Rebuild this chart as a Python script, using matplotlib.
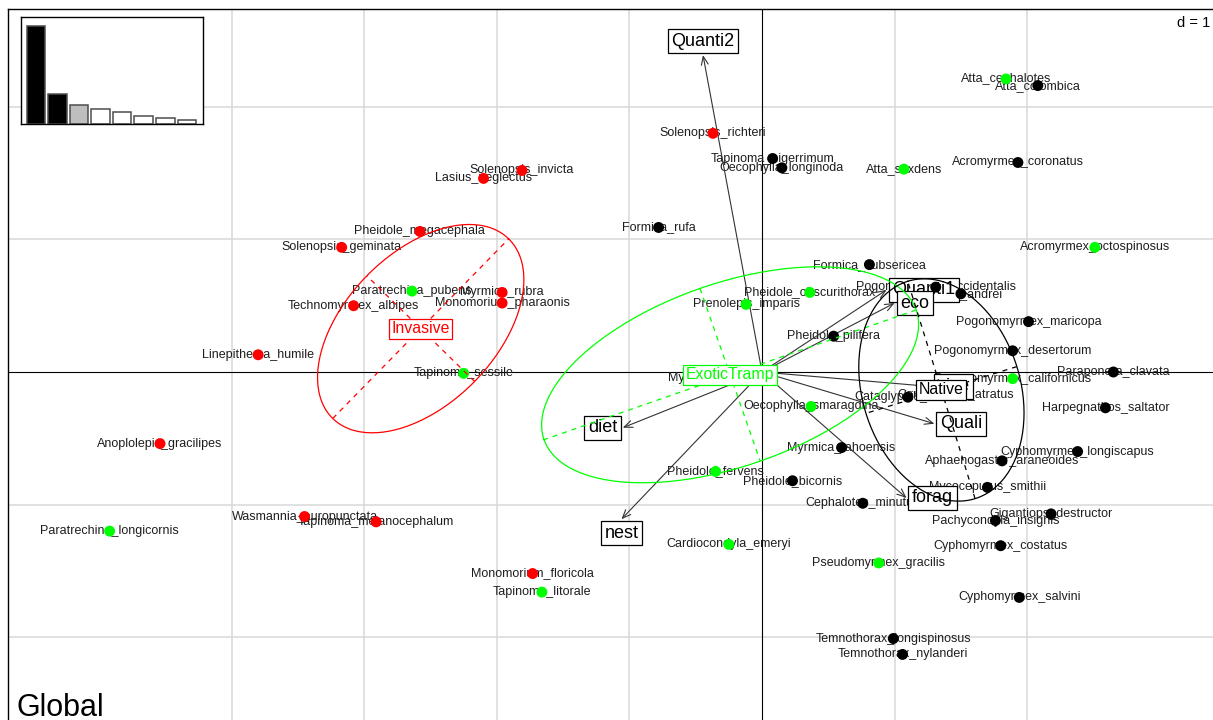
import numpy as np
import matplotlib.pyplot as plt
from matplotlib.patches import FancyArrowPatch

plt.rcParams['font.family'] = ['Liberation Sans', 'DejaVu Sans']

# ------------------------------------------------------------------
# Data: species scores on axes 1-2 and their status
# ------------------------------------------------------------------
invasive = ["Solenopsis_richteri", "Solenopsis_invicta", "Lasius_neglectus",
            "Pheidole_megacephala", "Solenopsis_geminata", "Technomyrmex_albipes",
            "Myrmica_rubra", "Monomorium_pharaonis", "Linepithema_humile",
            "Anoplolepis_gracilipes", "Wasmannia_auropunctata",
            "Tapinoma_melanocephalum", "Monomorium_floricola"]
invasive_x = [-0.37, -1.81, -2.10, -2.58, -3.17, -3.08, -1.96, -1.96, -3.80,
              -4.54, -3.45, -2.91, -1.73]
invasive_y = [1.80, 1.52, 1.46, 1.06, 0.94, 0.50, 0.60, 0.52, 0.13,
              -0.54, -1.09, -1.13, -1.52]

tramp = ["Paratrechina_pubens", "Tapinoma_sessile", "Paratrechina_longicornis",
         "Tapinoma_litorale", "Prenolepis_imparis", "Pheidole_obscurithorax",
         "Oecophylla_smaragdina", "Pheidole_fervens", "Cardiocondyla_emeryi",
         "Pseudomyrmex_gracilis", "Atta_cephalotes", "Atta_sexdens",
         "Acromyrmex_octospinosus", "Pogonomyrmex_californicus", "Myrmica_sabuleti"]
tramp_x = [-2.64, -2.25, -4.92, -1.66, -0.12, 0.36, 0.37, -0.35, -0.25,
           0.88, 1.84, 1.07, 2.51, 1.89, -0.34]
tramp_y = [0.61, -0.01, -1.20, -1.66, 0.51, 0.60, -0.26, -0.75, -1.30,
           -1.44, 2.21, 1.53, 0.94, -0.05, -0.045]

native = ["Tapinoma_nigerrimum", "Oecophylla_longinoda", "Formica_rufa",
          "Atta_colombica", "Acromyrmex_coronatus", "Formica_subsericea",
          "Pogonomyrmex_occidentalis", "Messor_andrei", "Pheidole_pilifera",
          "Pogonomyrmex_maricopa", "Pogonomyrmex_desertorum", "Paraponera_clavata",
          "Cataglyphis_cursor", "Camponotus_atratus", "Harpegnathos_saltator",
          "Cyphomyrmex_longiscapus", "Aphaenogaster_araneoides", "Myrmica_tahoensis",
          "Mycocepurus_smithii", "Pheidole_bicornis", "Cephalotes_minutus",
          "Gigantiops_destructor", "Pachycondyla_insignis", "Cyphomyrmex_costatus",
          "Cyphomyrmex_salvini", "Temnothorax_longispinosus", "Temnothorax_nylanderi"]
native_x = [0.08, 0.15, -0.78, 2.08, 1.93, 0.81, 1.31, 1.50, 0.54, 2.01, 1.89,
            2.65, 1.10, 1.46, 2.59, 2.38, 1.81, 0.60, 1.70, 0.23, 0.76, 2.18,
            1.76, 1.80, 1.94, 0.99, 1.06]
native_y = [1.61, 1.54, 1.09, 2.16, 1.58, 0.81, 0.64, 0.59, 0.27, 0.38, 0.16,
            0.00, -0.19, -0.17, -0.27, -0.60, -0.67, -0.57, -0.87, -0.82, -0.99,
            -1.07, -1.12, -1.31, -1.70, -2.01, -2.13]

# variables (arrows)
var_names = ["Quanti2", "Quanti1", "eco", "size", "Quali", "forag", "nest", "diet"]
var_x = [-0.445, 0.94, 1.00, 1.28, 1.30, 1.09, -1.06, -1.05]
var_y = [2.39, 0.62, 0.52, -0.11, -0.39, -0.95, -1.11, -0.42]

# eigenvalues (inset)
eigenvalues = [2.44, 0.75, 0.465, 0.375, 0.29, 0.20, 0.15, 0.10]

groups = [("Invasive", invasive, invasive_x, invasive_y, "#FF0000"),
          ("ExoticTramp", tramp, tramp_x, tramp_y, "#00FF00"),
          ("Native", native, native_x, native_y, "#000000")]

ELLIPSE_COEF = 0.75

# ------------------------------------------------------------------
# Figure
# ------------------------------------------------------------------
W, H = 1213, 720
fig = plt.figure(figsize=(W / 100, H / 100), dpi=100)
ppu = 132.6
x0_px, y0_px = 762, 372
left_px, right_px, top_px, bot_px = 8, 1216, 9, 723
ax = fig.add_axes([left_px / W, 1 - bot_px / H, (right_px - left_px) / W,
                   (bot_px - top_px) / H])
ax.set_xlim((left_px - x0_px) / ppu, (right_px - x0_px) / ppu)
ax.set_ylim((y0_px - bot_px) / ppu, (y0_px - top_px) / ppu)
ax.set_xticks([])
ax.set_yticks([])
for s in ax.spines.values():
    s.set_linewidth(1.0)
    s.set_color("black")

# grid
for gx in [-4, -3, -2, -1, 1, 2]:
    ax.axvline(gx, color="#D9D9D9", lw=1.1, zorder=0)
for gy in [-2, -1, 1, 2]:
    ax.axhline(gy, color="#D9D9D9", lw=1.1, zorder=0)
ax.axvline(0, color="black", lw=0.8, zorder=1)
ax.axhline(0, color="black", lw=0.8, zorder=1)

# species labels + points
for name, members, xs, ys, col in groups:
    for lab, px, py in zip(members, xs, ys):
        ax.text(px, py, lab, ha="center", va="center", fontsize=9,
                color="#1E1E1E", zorder=2)
    ax.scatter(xs, ys, s=62, color=col, edgecolors="none", zorder=4)

# arrows from origin
for lab, vx, vy in zip(var_names, var_x, var_y):
    arr = FancyArrowPatch((0, 0), (vx, vy), arrowstyle="->,head_length=0.6,head_width=0.25",
                          mutation_scale=10, color="#333333", lw=0.8,
                          shrinkA=0, shrinkB=0, zorder=3)
    ax.add_patch(arr)
    if abs(vx) > abs(vy):
        ha, va = ("left" if vx > 0 else "right"), "center"
        off = (4 if vx > 0 else -4, 0)
    else:
        ha, va = "center", ("bottom" if vy > 0 else "top")
        off = (0, 4 if vy > 0 else -4)
    ax.annotate(lab, (vx, vy), xytext=off, textcoords="offset points",
                ha=ha, va=va, fontsize=13, color="black", zorder=3,
                bbox=dict(boxstyle="square,pad=0.2", facecolor="white",
                          edgecolor="black", lw=0.9))

# class ellipses (ade4-like), computed from the member scores
for name, members, xs, ys, col in groups:
    px, py = np.array(xs), np.array(ys)
    mx, my = px.mean(), py.mean()
    cov = np.array([[((px - mx) ** 2).mean(), ((px - mx) * (py - my)).mean()],
                    [((px - mx) * (py - my)).mean(), ((py - my) ** 2).mean()]])
    vals, vecs = np.linalg.eigh(cov)
    a = ELLIPSE_COEF * np.sqrt(vals[1]) * vecs[:, 1]
    b = ELLIPSE_COEF * np.sqrt(vals[0]) * vecs[:, 0]
    t = np.linspace(0, 2 * np.pi, 200)
    ax.plot(mx + a[0] * np.cos(t) + b[0] * np.sin(t),
            my + a[1] * np.cos(t) + b[1] * np.sin(t), color=col, lw=0.9, zorder=4)
    ax.plot([mx - a[0], mx + a[0]], [my - a[1], my + a[1]], color=col, lw=0.9,
            ls=(0, (4, 4)), zorder=4)
    ax.plot([mx - b[0], mx + b[0]], [my - b[1], my + b[1]], color=col, lw=0.9,
            ls=(0, (4, 4)), zorder=4)
    ax.text(mx, my, name, ha="center", va="center", fontsize=11.4, color=col, zorder=6,
            bbox=dict(boxstyle="square,pad=0.16", facecolor="white",
                      edgecolor=col, lw=0.9))

ax.text(0.995, 0.98, "d = 1", transform=ax.transAxes, ha="right", va="center",
        fontsize=10.5, color="black")
fig.text(17 / W, 1 - 716 / H, "Global", ha="left", va="baseline", fontsize=22)

# eigenvalue inset
ins = fig.add_axes([21 / W, 1 - 124 / H, 182 / W, 107 / H])
bar_cols = ["black", "black", "#BEBEBE"] + ["white"] * (len(eigenvalues) - 3)
ins.bar(np.arange(len(eigenvalues)), eigenvalues, width=0.86, color=bar_cols,
        edgecolor="#4D4D4D", lw=1.1)
ins.set_xlim(-0.69, len(eigenvalues) - 0.25)
ins.set_ylim(0, max(eigenvalues) * 1.095)
ins.set_xticks([])
ins.set_yticks([])
ins.set_facecolor("white")
for s in ins.spines.values():
    s.set_linewidth(1.0)

fig.savefig("out.png", dpi=100)
